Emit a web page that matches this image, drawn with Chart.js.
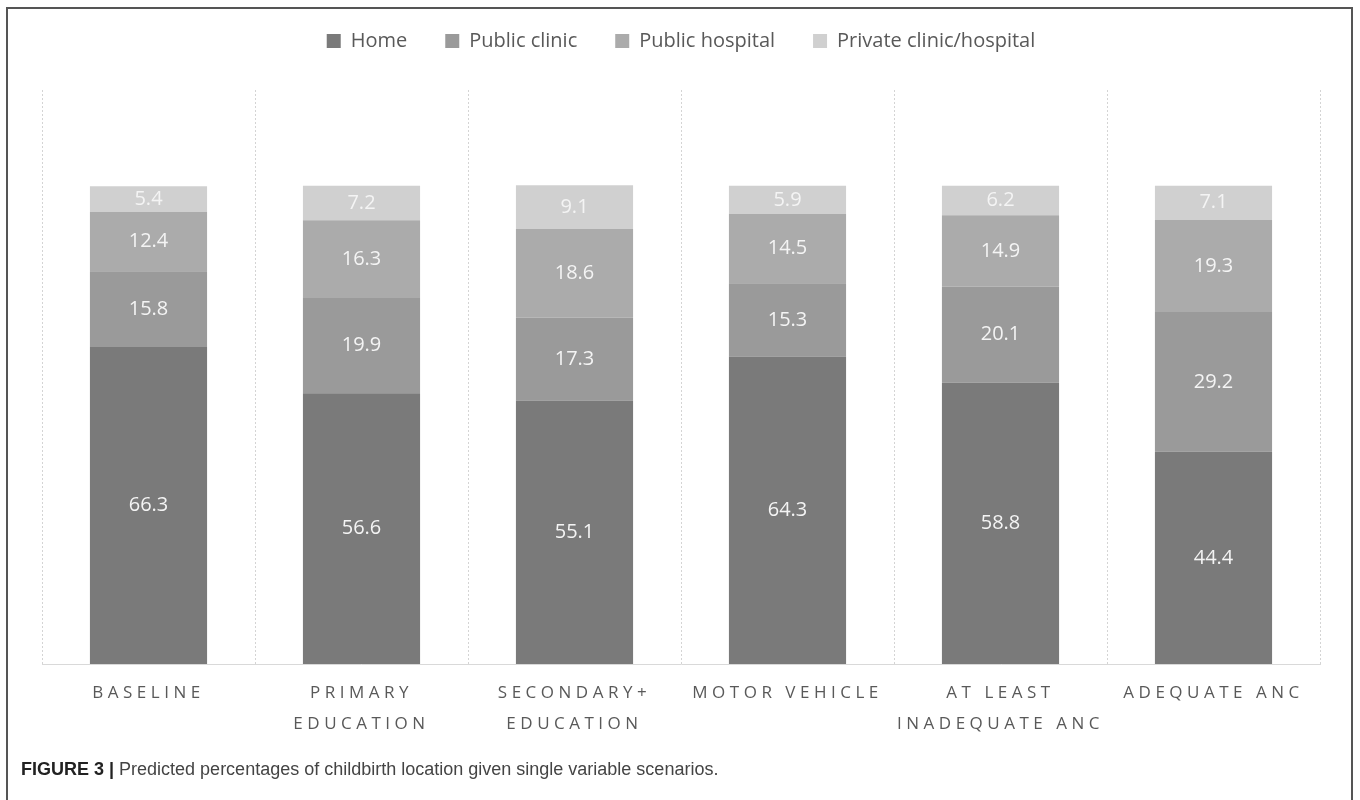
<!DOCTYPE html>
<html>
<head>
<meta charset="utf-8">
<script src="https://cdn.jsdelivr.net/npm/chart.js@4"></script>
<style>
  html, body { margin: 0; padding: 0; background: #fff; }
  body { width: 1360px; height: 800px; position: relative; overflow: hidden; }
  .frame {
    position: absolute; left: 6px; top: 7px; width: 1347px; height: 800px;
    border: 2px solid #555; border-bottom: none; box-sizing: border-box;
  }
  #wrap { position: absolute; left: 0; top: 0; width: 1360px; height: 764px; }
  .caption {
    position: absolute; left: 21px; top: 759px;
    font-family: "Liberation Sans", Arial, sans-serif; font-size: 18px; color: #444;
  }
  .caption b { color: #222; }
</style>
</head>
<body>
<div class="frame"></div>
<div id="wrap"><canvas id="chart"></canvas></div>
<div class="caption"><b>FIGURE 3 |</b> Predicted percentages of childbirth location given single variable scenarios.</div>
<script>
const categories = [
  "BASELINE",
  ["PRIMARY", "EDUCATION"],
  ["SECONDARY+", "EDUCATION"],
  "MOTOR VEHICLE",
  ["AT LEAST", "INADEQUATE ANC"],
  "ADEQUATE ANC"
];
const home = [66.3, 56.6, 55.1, 64.3, 58.8, 44.4];
const publicClinic = [15.8, 19.9, 17.3, 15.3, 20.1, 29.2];
const publicHospital = [12.4, 16.3, 18.6, 14.5, 14.9, 19.3];
const privateClinic = [5.4, 7.2, 9.1, 5.9, 6.2, 7.1];

Chart.defaults.font.family = "'Open Sans', sans-serif";

// spaced-out category labels + a taller legend box (gap above the bars)
const tweaks = {
  id: "tweaks",
  beforeUpdate(chart) {
    const lg = chart.legend;
    if (lg && !lg._tall) {
      const fit = lg.fit;
      lg.fit = function () {
        fit.call(this);
        this.height = 97;
      };
      lg._tall = true;
    }
  },
  beforeDraw(chart) {
    const s = chart.scales.x;
    if (s && !s._spaced) {
      const orig = s.drawLabels.bind(s);
      s.drawLabels = function (area) {
        chart.ctx.save();
        chart.ctx.letterSpacing = "4.5px";
        orig(area);
        chart.ctx.restore();
      };
      s._spaced = true;
    }
  }
};

const valueLabels = {
  id: "valueLabels",
  afterDatasetsDraw(chart) {
    const ctx = chart.ctx;
    ctx.save();
    ctx.font = "20px 'Open Sans', sans-serif";
    ctx.fillStyle = "#f4f4f4";
    ctx.textAlign = "center";
    ctx.textBaseline = "middle";
    chart.data.datasets.forEach((ds, i) => {
      chart.getDatasetMeta(i).data.forEach((bar, j) => {
        ctx.fillText(ds.data[j].toFixed(1), bar.x, (bar.y + bar.base) / 2);
      });
    });
    ctx.restore();
  }
};

new Chart(document.getElementById("chart"), {
  type: "bar",
  data: {
    labels: categories,
    datasets: [
      { label: "Home", data: home, backgroundColor: "#7a7a7a" },
      { label: "Public clinic", data: publicClinic, backgroundColor: "#9a9a9a" },
      { label: "Public hospital", data: publicHospital, backgroundColor: "#ababab" },
      { label: "Private clinic/hospital", data: privateClinic, backgroundColor: "#d0d0d0" }
    ]
  },
  options: {
    responsive: true,
    maintainAspectRatio: false,
    animation: false,
    datasets: { bar: { categoryPercentage: 1, barPercentage: 0.55 } },
    layout: { padding: { left: 42, right: 40, top: -7, bottom: 10 } },
    plugins: {
      legend: {
        position: "top",
        labels: {
          boxWidth: 14, boxHeight: 14, padding: 38,
          color: "#595959", font: { size: 20 }
        }
      },
      tooltip: { enabled: false }
    },
    scales: {
      x: {
        stacked: true,
        offset: true,
        grid: { offset: true, color: "#d4d4d4", drawTicks: false },
        border: { color: "#d9d9d9", width: 1, dash: [2, 2] },
        ticks: {
          color: "#595959", font: { size: 17, lineHeight: 1.82 },
          padding: 14, maxRotation: 0, autoSkip: false
        }
      },
      y: {
        stacked: true,
        display: false,
        min: 0,
        max: 120
      }
    }
  },
  plugins: [tweaks, valueLabels]
});
</script>
</body>
</html>
